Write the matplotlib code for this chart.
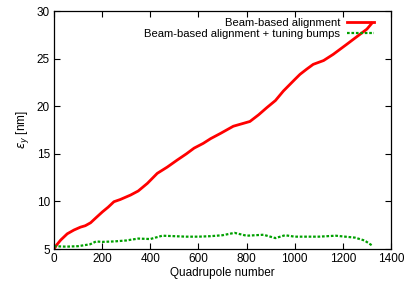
import numpy as np
import matplotlib
matplotlib.use("Agg")
import matplotlib.pyplot as plt

plt.rcParams['font.family'] = ['Liberation Sans', 'DejaVu Sans']

# Beam-based alignment
quad_bba = [0, 10, 28, 55, 83, 110, 130, 152, 175, 201, 225, 249, 275, 318, 350, 388,
            429, 470, 512, 550, 582, 620, 651, 692, 745, 814, 850, 884, 920, 953,
            1000, 1022, 1050, 1077, 1120, 1160, 1216, 1271, 1300, 1320]
emit_bba = [5.0, 5.4, 5.95, 6.6, 7.0, 7.3, 7.45, 7.76, 8.3, 8.9, 9.4, 9.97, 10.2,
            10.67, 11.1, 11.9, 12.95, 13.6, 14.35, 15.0, 15.6, 16.1, 16.6, 17.15,
            17.9, 18.4, 19.1, 19.85, 20.6, 21.6, 22.8, 23.35, 23.9, 24.4, 24.8,
            25.45, 26.5, 27.55, 28.1, 28.7]

# Beam-based alignment + tuning bumps
quad_tb = [0, 50, 100, 150, 175, 200, 250, 300, 350, 400, 450, 500, 550, 600,
           650, 700, 750, 800, 870, 920, 960, 1000, 1050, 1100, 1170, 1250, 1290, 1320]
emit_tb = [5.3, 5.25, 5.3, 5.5, 5.8, 5.75, 5.8, 5.9, 6.1, 6.05, 6.4, 6.35, 6.3, 6.3,
           6.35, 6.45, 6.7, 6.4, 6.5, 6.15, 6.45, 6.3, 6.3, 6.3, 6.4, 6.2, 5.9, 5.4]

fig = plt.figure(figsize=(4.06, 2.83), dpi=100)
ax = fig.add_axes([0.133, 0.120, 0.830, 0.841])

ax.plot(quad_bba, emit_bba, color='#ff0000', lw=2.0, label='Beam-based alignment')
ax.plot(quad_tb, emit_tb, color='#00a000', lw=1.6, linestyle=(0, (1.2, 0.8)),
        label='Beam-based alignment + tuning bumps')

ax.set_xlim(0, 1400)
ax.set_ylim(5, 30)
ax.set_xticks(range(0, 1401, 200))
ax.set_yticks(range(5, 31, 5))
ax.tick_params(direction='in', top=True, right=True, labelsize=8.5, length=4, pad=3)
ax.set_xlabel('Quadrupole number', fontsize=8.5, labelpad=1)
ax.set_ylabel(r'$\varepsilon_y$ [nm]', fontsize=8.5, labelpad=4)
for s in ax.spines.values():
    s.set_linewidth(0.9)

ax.legend(loc='upper right', frameon=False, markerfirst=False, fontsize=8.1,
          handlelength=2.4, handletextpad=0.6, labelspacing=0.1,
          borderaxespad=0.2, bbox_to_anchor=(0.97, 1.0))

fig.savefig('out.png', dpi=100)
